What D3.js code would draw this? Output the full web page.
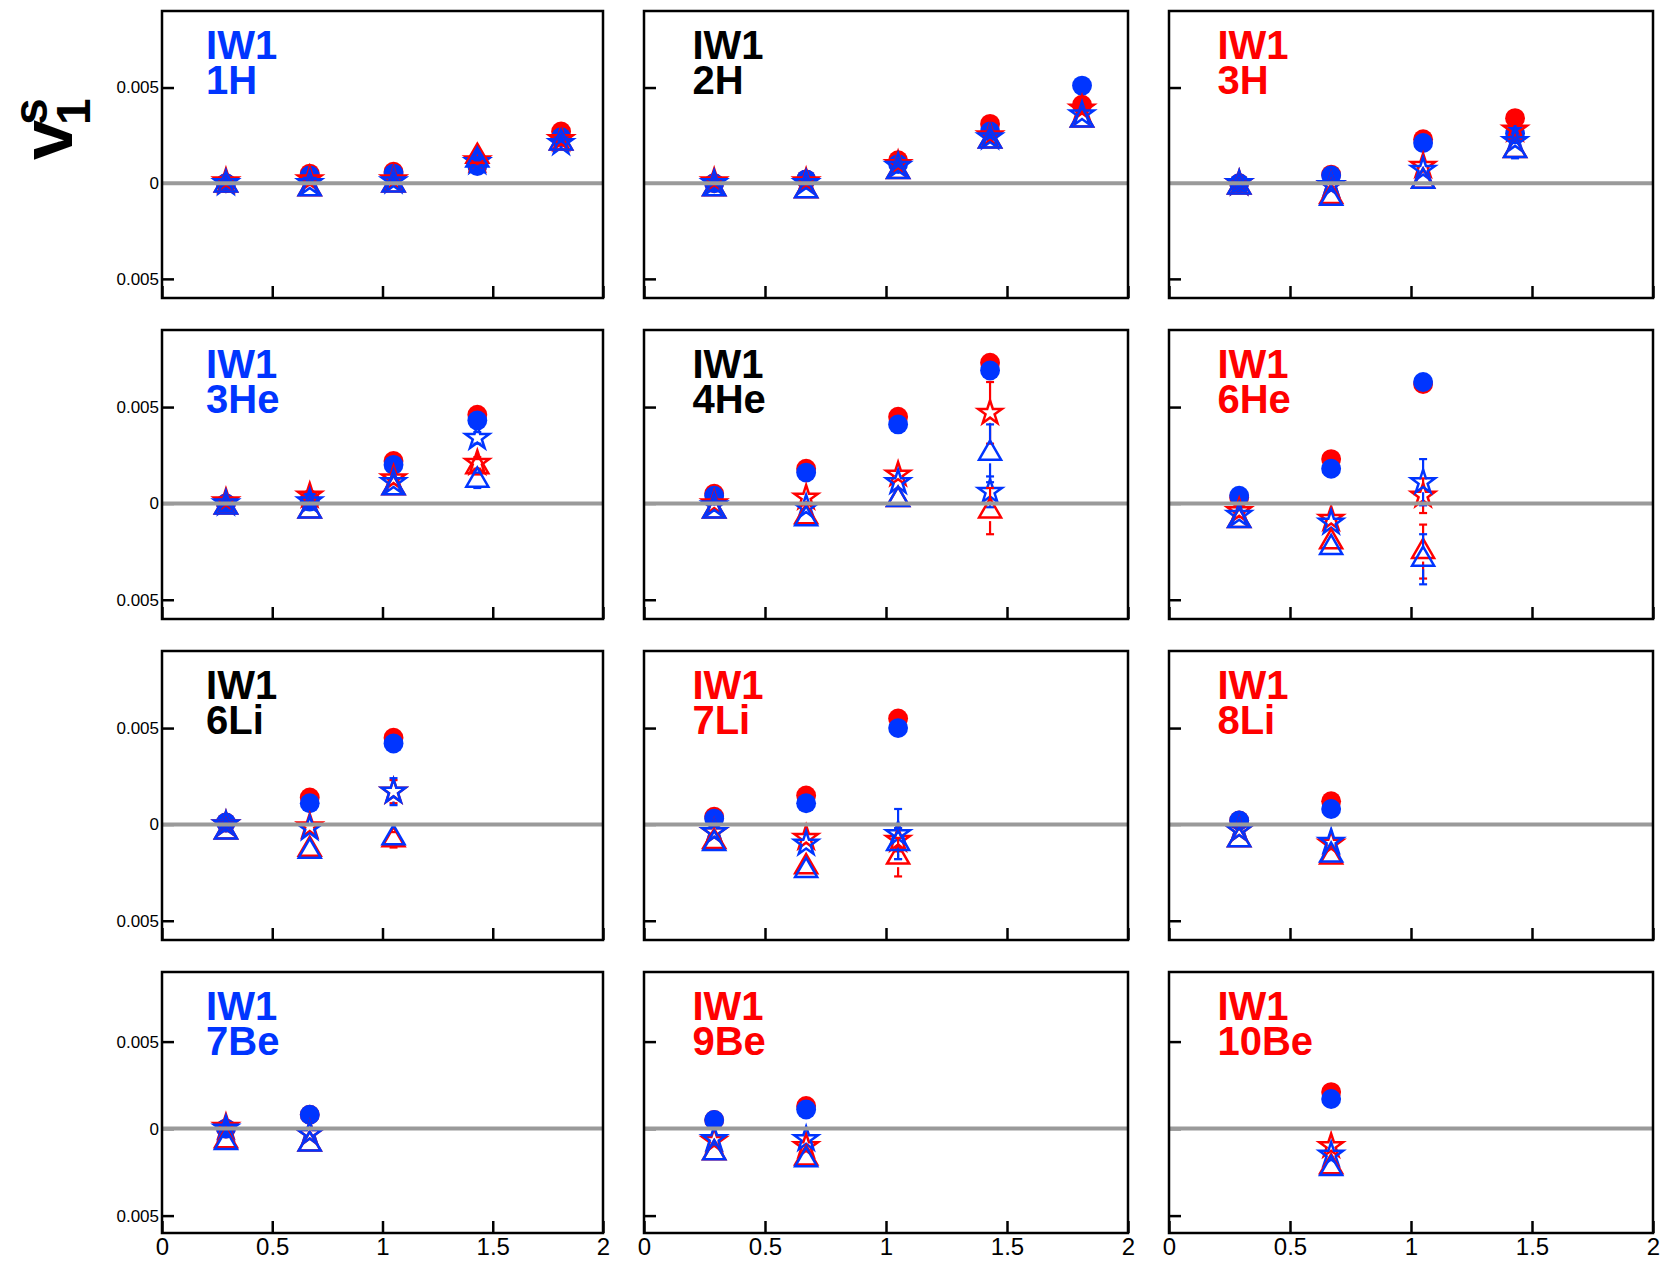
<!DOCTYPE html>
<html>
<head>
<meta charset="utf-8">
<script src="https://cdn.jsdelivr.net/npm/d3@7"></script>
<style>
  body { margin: 0; background: #fff; }
  svg text { font-family: "Liberation Sans", Arial, Helvetica, sans-serif; }
</style>
</head>
<body>
<svg id="chart" width="1665" height="1262"></svg>
<script>
// rapidity bins and panels
const xBins = [0.29, 0.67, 1.05, 1.43, 1.81];
const nuclei = ["1H", "2H", "3H", "3He", "4He", "6He", "6Li", "7Li", "8Li", "7Be", "9Be", "10Be"];
const xTicks = [0, 0.5, 1, 1.5, 2];
const yTicks = [-0.005, 0, 0.005];

// one row per panel, one entry per bin (null = no point)
const redCircle = [
  [0.0000, 0.0005, 0.0006, 0.0011, 0.0027],
  [0.0000, 0.0002, 0.0012, 0.0031, 0.0041],
  [0.0000, 0.00045, 0.0023, 0.0034],
  [0.0000, 0.0002, 0.0022, 0.0046],
  [0.0005, 0.0018, 0.0045, 0.0073],
  [0.0003, 0.0023, 0.0062],
  [0.0001, 0.0014, 0.0045],
  [0.0004, 0.0015, 0.0055],
  [0.0002, 0.0012],
  [0.0000, 0.0008],
  [0.0005, 0.0013],
  [null, 0.0021]
];
const blueCircle = [
  [0.0000, 0.0004, 0.0005, 0.0009, 0.0024],
  [0.0000, 0.0002, 0.0010, 0.0027, 0.0051],
  [0.0000, 0.0004, 0.0021, 0.0026],
  [0.0000, 0.0001, 0.0020, 0.0043],
  [0.0004, 0.0016, 0.0041, 0.0069],
  [0.0004, 0.0018, 0.0063],
  [0.0001, 0.0011, 0.0042],
  [0.0003, 0.0011, 0.0050],
  [0.0002, 0.0008],
  [0.0000, 0.0008],
  [0.0005, 0.0011],
  [null, 0.0017]
];
const redStar = [
  [0.0001, 0.0002, 0.0002, 0.0012, 0.0023],
  [0.0001, 0.0001, 0.0010, 0.0025, 0.0039],
  [0.0000, -0.0001, 0.0009, 0.0028],
  [0.0001, 0.0004, 0.0013, 0.0021],
  [0.0000, 0.0003, 0.0015, 0.0047],
  [-0.0004, -0.0008, 0.0004],
  [0.0000, -0.0001, 0.0017],
  [-0.0004, -0.0007, -0.0008],
  [-0.0003, -0.0010],
  [0.0001, -0.0003],
  [-0.0007, -0.0010],
  [null, -0.0010]
];
const blueStar = [
  [0.0000, 0.0000, 0.0001, 0.0011, 0.0021],
  [0.0000, 0.0000, 0.0009, 0.0024, 0.0036],
  [0.0000, -0.0001, 0.0007, 0.0022],
  [0.0000, 0.0001, 0.0011, 0.0034],
  [-0.0001, -0.0002, 0.0011, 0.0006],
  [-0.0006, -0.0010, 0.0011],
  [0.0000, -0.0002, 0.0017],
  [-0.0004, -0.0010, -0.0005],
  [-0.0003, -0.0009],
  [0.0000, -0.0003],
  [-0.0006, -0.0006],
  [null, -0.0015]
];
const redTri = [
  [-0.0001, -0.0003, -0.0001, 0.0014, 0.0021],
  [-0.0003, -0.0004, 0.0006, 0.0022, 0.0033],
  [-0.0002, -0.0007, 0.0001, 0.0017],
  [-0.0002, -0.0004, 0.0008, 0.0019],
  [-0.0004, -0.0007, 0.0002, -0.0004],
  [-0.0009, -0.0020, -0.0025],
  [-0.0004, -0.0013, -0.0008],
  [-0.0009, -0.0022, -0.0017],
  [-0.0008, -0.0017],
  [-0.0007, -0.0009],
  [-0.0014, -0.0017],
  [null, -0.0022]
];
const blueTri = [
  [-0.0001, -0.0003, -0.0001, 0.0012, 0.0021],
  [-0.0003, -0.0004, 0.0006, 0.0022, 0.0033],
  [-0.0002, -0.0008, 0.0001, 0.0017],
  [-0.0002, -0.0004, 0.0008, 0.0012],
  [-0.0004, -0.0008, 0.0002, 0.0026],
  [-0.0009, -0.0023, -0.0029],
  [-0.0004, -0.0014, -0.0007],
  [-0.0010, -0.0024, -0.0010],
  [-0.0008, -0.0016],
  [-0.0008, -0.0009],
  [-0.0014, -0.0018],
  [null, -0.0023]
];

// statistical errors (only the visible ones are non-zero)
const redStarErr = [
  [0, 0, 0, 0, 0], [0, 0, 0, 0, 0], [0, 0, 0, 0.0003], [0, 0, 0, 0.0003],
  [0, 0, 0, 0.0016], [0, 0, 0.0009], [0, 0, 0.0006], [0, 0, 0.0006],
  [0, 0], [0, 0], [0, 0], [0, 0]
];
const blueStarErr = [
  [0, 0, 0, 0, 0], [0, 0, 0, 0, 0], [0, 0, 0, 0], [0, 0, 0, 0.0003],
  [0, 0, 0, 0.0008], [0, 0, 0.0012], [0, 0, 0.0007], [0, 0, 0.0013],
  [0, 0], [0, 0], [0, 0], [0, 0]
];
const redTriErr = [
  [0, 0, 0, 0, 0], [0, 0, 0, 0, 0], [0, 0, 0, 0], [0, 0, 0, 0.0004],
  [0, 0, 0, 0.0012], [0, 0, 0.0014], [0, 0, 0.0004], [0, 0, 0.0010],
  [0, 0], [0, 0], [0, 0], [0, 0]
];
const blueTriErr = [
  [0, 0, 0, 0, 0], [0, 0, 0, 0, 0], [0, 0, 0, 0.0004], [0, 0, 0, 0.0004],
  [0, 0, 0, 0.0015], [0, 0, 0.0013], [0, 0, 0], [0, 0, 0.0008],
  [0, 0], [0, 0], [0, 0], [0, 0]
];

// styling
const RED = "#ff0000", BLUE = "#0035ff", BLACK = "#000";
const titleColors = [BLUE, BLACK, RED, BLUE, BLACK, RED, BLACK, RED, RED, BLUE, RED, RED];

const colEdges = [[162, 603], [644, 1128], [1169, 1653]];
const rowEdges = [[11, 298], [330, 619], [651, 940], [972, 1233]];

const series = [
  { v: redCircle,  e: null,        color: RED,  shape: "circle" },
  { v: blueCircle, e: null,        color: BLUE, shape: "circle" },
  { v: redStar,    e: redStarErr,  color: RED,  shape: "star" },
  { v: blueStar,   e: blueStarErr, color: BLUE, shape: "star" },
  { v: redTri,     e: redTriErr,   color: RED,  shape: "tri" },
  { v: blueTri,    e: blueTriErr,  color: BLUE, shape: "tri" }
];

const symbols = {
  circle: d3.symbol(d3.symbolCircle, 310),
  star: d3.symbol(d3.symbolStar, 175),
  tri: d3.symbol(d3.symbolTriangle, 210)
};

const fmtY = d => d === 0 ? "0" : Math.abs(d).toFixed(3);
const fmtX = d => String(d);

const svg = d3.select("#chart");
svg.append("rect").attr("width", 1665).attr("height", 1262).attr("fill", "#fff");

// y-axis title v1^s
const ylab = svg.append("g")
    .attr("transform", "translate(72,160) rotate(-90)")
    .attr("font-weight", "bold")
    .attr("fill", BLACK);
ylab.append("text").attr("x", 0).attr("y", 0).attr("font-size", 72).text("v");
ylab.append("text").attr("x", 35).attr("y", -25).attr("font-size", 48).text("s");
ylab.append("text").attr("x", 35).attr("y", 18).attr("font-size", 48).text("1");

nuclei.forEach((name, i) => {
  const r = Math.floor(i / 3), c = i % 3;
  const [x0, x1] = colEdges[c], [y0, y1] = rowEdges[r];
  const w = x1 - x0, h = y1 - y0;

  const x = d3.scaleLinear().domain([0, 2]).range([0, w]);
  const y = d3.scaleLinear().domain([-0.006, 0.009]).range([h, 0]);

  const g = svg.append("g").attr("transform", `translate(${x0},${y0})`);

  // axes, ticks pointing inward
  const yAxis = d3.axisLeft(y).tickValues(yTicks).tickSize(-12).tickPadding(3)
      .tickFormat(c === 0 ? fmtY : () => "");
  const ga = g.append("g").call(yAxis);
  ga.select(".domain").remove();
  ga.selectAll("line").attr("stroke", BLACK).attr("stroke-width", 2.5);
  ga.selectAll("text").attr("font-size", 17).attr("fill", BLACK).attr("font-family", null);

  const xAxis = d3.axisBottom(x).tickValues(xTicks).tickSize(-12).tickPadding(5)
      .tickFormat(r === 3 ? fmtX : () => "");
  const gx = g.append("g").attr("transform", `translate(0,${h})`).call(xAxis);
  gx.select(".domain").remove();
  gx.selectAll("line").attr("stroke", BLACK).attr("stroke-width", 2.5);
  gx.selectAll("text").attr("font-size", 24).attr("fill", BLACK).attr("font-family", null);

  // data
  series.forEach(s => {
    const pts = xBins.map((xv, j) => ({ x: xv, y: s.v[i][j], e: s.e ? s.e[i][j] : 0 }))
        .filter(d => d.y != null);
    const gap = 10;
    pts.filter(d => d.e > 0).forEach(d => {
      const cx = x(d.x), cy = y(d.y);
      const top = y(d.y + d.e), bot = y(d.y - d.e);
      if (cy - gap > top) {
        g.append("line").attr("x1", cx).attr("x2", cx).attr("y1", cy - gap).attr("y2", top)
            .attr("stroke", s.color).attr("stroke-width", 2.2);
      }
      if (cy + gap < bot) {
        g.append("line").attr("x1", cx).attr("x2", cx).attr("y1", cy + gap).attr("y2", bot)
            .attr("stroke", s.color).attr("stroke-width", 2.2);
      }
      [top, bot].forEach(yy => {
        g.append("line").attr("x1", cx - 4).attr("x2", cx + 4).attr("y1", yy).attr("y2", yy)
            .attr("stroke", s.color).attr("stroke-width", 2.2);
      });
    });
    g.selectAll(null).data(pts).enter().append("path")
        .attr("transform", d => `translate(${x(d.x)},${y(d.y)})`)
        .attr("d", symbols[s.shape])
        .attr("fill", s.shape === "circle" ? s.color : "none")
        .attr("stroke", s.shape === "circle" ? "none" : s.color)
        .attr("stroke-width", 2.5)
        .attr("stroke-linejoin", "miter");
  });

  // zero line
  g.append("line").attr("x1", 0).attr("x2", w).attr("y1", y(0)).attr("y2", y(0))
      .attr("stroke", "#9a9a9a").attr("stroke-width", 4);

  // frame
  g.append("rect").attr("width", w).attr("height", h)
      .attr("fill", "none").attr("stroke", BLACK).attr("stroke-width", 2.5);

  // panel title (two lines)
  [["IW1", 48], [name, 83]].forEach(([txt, by]) => {
    g.append("text").attr("x", x(0.2)).attr("y", by)
        .attr("font-weight", "bold").attr("font-size", 40)
        .attr("fill", titleColors[i]).text(txt);
  });
});
</script>
</body>
</html>
